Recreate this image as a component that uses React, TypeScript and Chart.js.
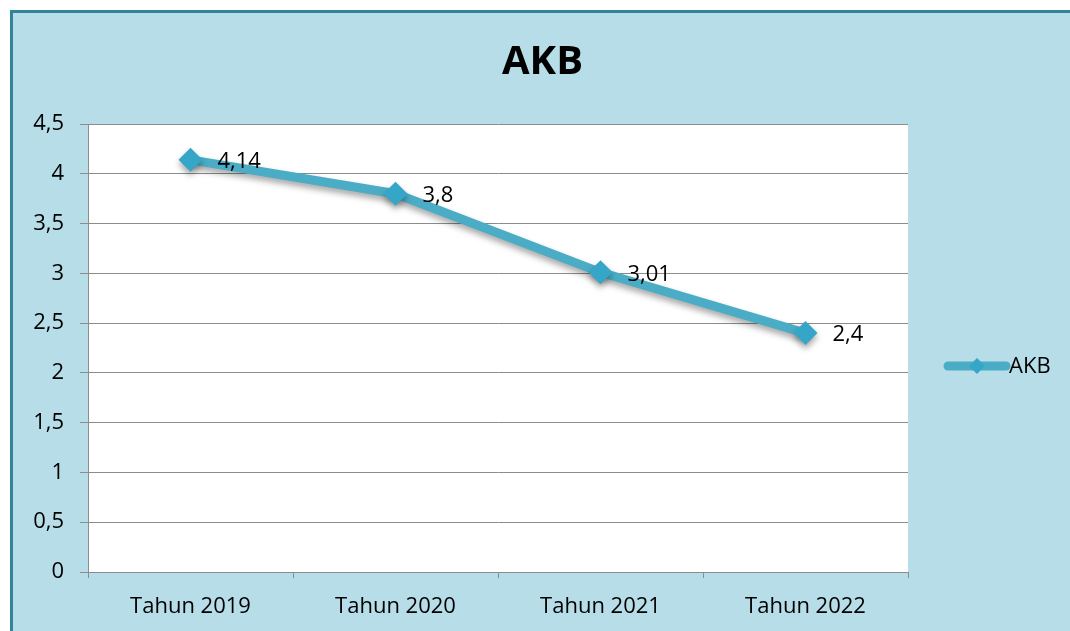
import React, { useEffect, useRef } from "react";
import { Chart, registerables } from "chart.js";

Chart.register(...registerables);

const categories = ["Tahun 2019", "Tahun 2020", "Tahun 2021", "Tahun 2022"];
const akbValues = [4.14, 3.8, 3.01, 2.4];
const yTicks = [0, 0.5, 1, 1.5, 2, 2.5, 3, 3.5, 4, 4.5];
const seriesName = "AKB";
const titleText = "AKB";

const FONT = "'Open Sans', 'Noto Sans', sans-serif";
const LINE_COLOR = "#4bacc6";
const POINT_COLOR = "#35a6c8";
const GRID = "#8c8c8c";

const fmt = (v: number) => String(v).replace(".", ",");

export default function App() {
  const ref = useRef<HTMLCanvasElement | null>(null);

  useEffect(() => {
    if (!ref.current) return;
    const shadowPlugin = {
      id: "shadow",
      beforeDatasetsDraw(chart: any) {
        const ctx = chart.ctx;
        ctx.save();
        ctx.shadowColor = "rgba(0,0,0,0.35)";
        ctx.shadowBlur = 6;
        ctx.shadowOffsetX = 0;
        ctx.shadowOffsetY = 4;
      },
      afterDatasetsDraw(chart: any) {
        chart.ctx.restore();
      },
    };
    const bgPlugin = {
      id: "plotbg",
      beforeDraw(chart: any) {
        const { ctx, chartArea } = chart;
        ctx.save();
        ctx.fillStyle = "#ffffff";
        ctx.fillRect(chartArea.left, chartArea.top, chartArea.right - chartArea.left, chartArea.bottom - chartArea.top);
        ctx.restore();
      },
    };
    const labelPlugin = {
      id: "labels",
      afterDatasetsDraw(chart: any) {
        const ctx = chart.ctx;
        const meta = chart.getDatasetMeta(0);
        ctx.save();
        ctx.fillStyle = "#000";
        ctx.font = `22px ${FONT}`;
        ctx.textAlign = "left";
        ctx.textBaseline = "middle";
        meta.data.forEach((pt: any, i: number) => {
          ctx.fillText(fmt(akbValues[i]), pt.x + 27, pt.y + 2);
        });
        ctx.restore();
      },
      afterDraw(chart: any) {
        const ctx = chart.ctx;
        const { chartArea, width } = chart;
        ctx.save();
        // title
        ctx.fillStyle = "#000";
        ctx.font = `bold 40px ${FONT}`;
        ctx.textAlign = "center";
        ctx.textBaseline = "middle";
        ctx.fillText(titleText, width / 2 + 1, 50);
        // legend
        const cy = (chartArea.top + chartArea.bottom) / 2 + 18;
        const x0 = chartArea.right + 40;
        const x1 = x0 + 58;
        ctx.strokeStyle = LINE_COLOR;
        ctx.lineWidth = 9;
        ctx.lineCap = "round";
        ctx.beginPath();
        ctx.moveTo(x0, cy);
        ctx.lineTo(x1, cy);
        ctx.stroke();
        const mx = (x0 + x1) / 2;
        const r = 8;
        ctx.fillStyle = POINT_COLOR;
        ctx.beginPath();
        ctx.moveTo(mx, cy - r);
        ctx.lineTo(mx + r, cy);
        ctx.lineTo(mx, cy + r);
        ctx.lineTo(mx - r, cy);
        ctx.closePath();
        ctx.fill();
        ctx.fillStyle = "#000";
        ctx.font = `22px ${FONT}`;
        ctx.textAlign = "left";
        ctx.textBaseline = "middle";
        ctx.fillText(seriesName, x1 + 3, cy + 1);
        ctx.restore();
      },
    };

    const chart = new Chart(ref.current, {
      type: "line",
      data: {
        labels: categories,
        datasets: [
          {
            label: seriesName,
            data: akbValues,
            borderColor: LINE_COLOR,
            borderWidth: 9,
            pointStyle: "rectRot",
            pointRadius: 12,
            pointHoverRadius: 12,
            pointBackgroundColor: POINT_COLOR,
            pointBorderColor: POINT_COLOR,
            pointBorderWidth: 0,
            tension: 0,
          },
        ],
      },
      options: {
        responsive: false,
        animation: false,
        devicePixelRatio: 1,
        layout: { padding: { left: 0, right: 162, top: 111, bottom: 0 } },
        plugins: {
          legend: { display: false },
          tooltip: { enabled: false },
          title: { display: false },
        },
        scales: {
          x: {
            type: "category",
            offset: true,
            grid: {
              offset: true,
              drawOnChartArea: false,
              drawTicks: true,
              tickLength: 6,
              color: GRID,
            },
            border: { display: true, color: GRID },
            ticks: {
              color: "#000",
              font: { family: FONT, size: 22 },
              padding: 16,
              maxRotation: 0,
            },
            afterFit(scale: any) {
              scale.height = 59;
            },
          },
          y: {
            min: 0,
            max: 4.5,
            afterBuildTicks(scale: any) {
              scale.ticks = yTicks.map((v) => ({ value: v }));
            },
            grid: { color: GRID, tickLength: 8, drawTicks: true },
            border: { display: true, color: GRID },
            ticks: {
              color: "#000",
              font: { family: FONT, size: 22 },
              padding: 16,
              callback: (v: any) => fmt(Number(v)),
            },
            afterFit(scale: any) {
              scale.width = 75;
            },
          },
        },
      },
      plugins: [bgPlugin, shadowPlugin, labelPlugin],
    } as any);
    return () => chart.destroy();
  }, []);

  return (
    <div
      style={{
        position: "fixed",
        left: 0,
        top: 0,
        width: 1070,
        height: 631,
        overflow: "hidden",
        background: "#ffffff",
      }}
    >
      <div
        style={{
          position: "absolute",
          left: 10,
          top: 10,
          width: 1100,
          height: 700,
          border: "3px solid #31849b",
          background: "#b7dde8",
          boxSizing: "border-box",
        }}
      />
      <canvas
        ref={ref}
        width={1057}
        height={618}
        style={{ position: "absolute", left: 13, top: 13, width: 1057, height: 618 }}
      />
    </div>
  );
}
